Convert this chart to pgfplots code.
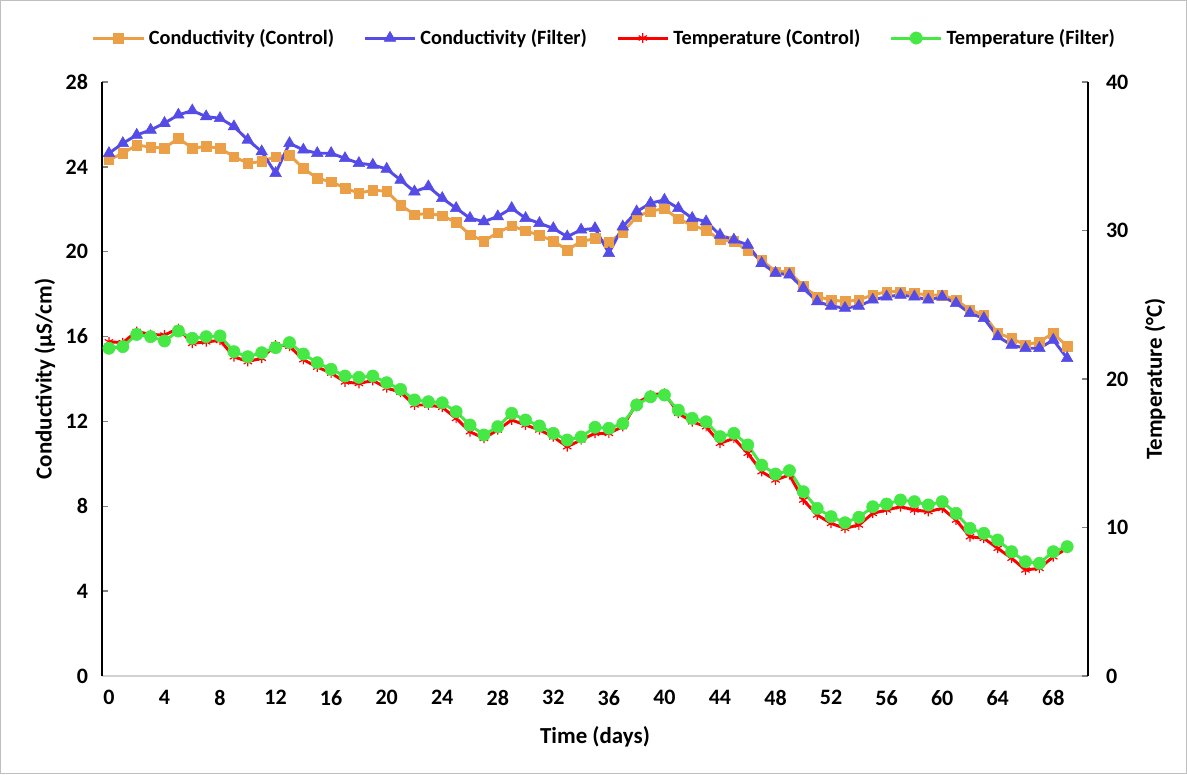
\documentclass[border=0pt]{standalone}
\usepackage{pgfplots}
\usepackage{pgfplotstable}
\pgfplotsset{compat=1.18}
\usepackage{fontspec}
\setmainfont{Carlito}
\definecolor{cOr}{RGB}{235,160,72}
\definecolor{cBl}{RGB}{85,75,230}
\definecolor{cRd}{RGB}{255,0,0}
\definecolor{cGr}{RGB}{70,232,70}

\pgfplotstableread{
d co cf tc tf
0 24.33 24.64 22.50 22.07
1 24.64 25.11 22.45 22.18
2 25.03 25.50 23.20 23.00
3 24.93 25.74 23.00 22.85
4 24.88 26.06 22.96 22.56
5 25.35 26.45 23.40 23.23
6 24.88 26.65 22.40 22.74
7 24.96 26.37 22.50 22.85
8 24.88 26.29 22.60 22.90
9 24.48 25.90 21.50 21.84
10 24.17 25.27 21.17 21.50
11 24.25 24.72 21.40 21.77
12 24.48 23.70 22.30 22.11
13 24.56 25.11 22.20 22.45
14 23.93 24.80 21.30 21.68
15 23.46 24.64 20.80 21.10
16 23.30 24.64 20.40 20.65
17 23.00 24.40 19.80 20.20
18 22.76 24.17 19.70 20.11
19 22.90 24.09 19.90 20.20
20 22.85 23.90 19.40 19.75
21 22.20 23.38 19.10 19.30
22 21.75 22.83 18.25 18.59
23 21.80 23.07 18.25 18.47
24 21.70 22.52 18.10 18.40
25 21.38 22.05 17.35 17.80
26 20.80 21.58 16.45 16.90
27 20.50 21.42 16.00 16.23
28 20.90 21.66 16.57 16.79
29 21.22 22.05 17.24 17.69
30 20.98 21.58 16.90 17.24
31 20.78 21.34 16.57 16.84
32 20.50 21.10 16.10 16.34
33 20.08 20.71 15.44 15.89
34 20.48 21.03 15.90 16.10
35 20.62 21.10 16.34 16.75
36 20.45 19.93 16.34 16.68
37 20.92 21.18 16.80 17.00
38 21.65 21.89 18.36 18.25
39 21.92 22.29 18.92 18.80
40 22.02 22.44 19.04 18.92
41 21.55 22.05 17.69 17.90
42 21.24 21.58 17.12 17.35
43 21.02 21.42 16.79 17.12
44 20.56 20.79 15.67 16.12
45 20.48 20.56 16.00 16.34
46 20.05 20.32 15.00 15.56
47 19.61 19.46 13.76 14.20
48 19.06 18.99 13.20 13.60
49 19.06 18.91 13.54 13.83
50 18.36 18.28 11.85 12.41
51 17.88 17.65 10.84 11.29
52 17.73 17.44 10.28 10.73
53 17.65 17.34 9.94 10.32
54 17.73 17.44 10.17 10.69
55 17.96 17.73 10.95 11.40
56 18.12 17.88 11.18 11.58
57 18.12 17.96 11.40 11.85
58 18.04 17.88 11.18 11.74
59 17.96 17.73 11.07 11.52
60 17.96 17.88 11.29 11.74
61 17.73 17.57 10.50 10.95
62 17.26 17.10 9.38 9.94
63 17.02 16.86 9.27 9.61
64 16.16 16.00 8.60 9.16
65 15.92 15.60 7.93 8.37
66 15.60 15.45 7.14 7.70
67 15.76 15.45 7.25 7.59
68 16.16 15.84 8.03 8.37
69 15.53 14.98 8.60 8.71
}\datatable

\newcommand{\tfont}{\fontsize{16.5}{19}\selectfont\bfseries}
\newcommand{\lfont}{\fontsize{17.2}{20}\selectfont\bfseries}
\newcommand{\gfont}{\fontsize{15.2}{18}\selectfont\bfseries}

\pgfplotsset{
  commonax/.style={
    scale only axis, width=739.5pt, height=445.5pt,
    xmin=-0.5, xmax=70.5,
    tick label style={font=\tfont},
    /pgf/number format/assume math mode=true,
    label style={font=\lfont},
    major tick length=4.5pt,
    clip=false,
  },
  sOr/.style={color=cOr, line width=2.2pt, mark=square*, mark size=3.6pt, mark options={solid, line width=0.4pt}},
  sBl/.style={color=cBl, line width=2.2pt, mark=triangle*, mark size=5pt, mark options={solid, line width=0.4pt}},
  sRd/.style={color=cRd, line width=2.2pt, mark=asterisk, mark size=3.6pt, mark options={solid, line width=0.9pt}},
  sGr/.style={color=cGr, line width=2.2pt, mark=*, mark size=4.6pt, mark options={solid, line width=0.4pt}},
}

\begin{document}
\begin{tikzpicture}
\begin{axis}[commonax,
  ymin=0, ymax=28, ytick={0,4,...,28},
  xtick={0,4,...,68},
  axis x line*=bottom, axis y line*=left,
  x axis line style={draw=black!18, line width=1.2pt},
  y axis line style={line width=1.1pt},
  major x tick style={draw=none},
  major y tick style={line width=1.1pt},
  xticklabel style={yshift=-7pt},
  yticklabel style={xshift=-7pt},
  ylabel={Conductivity (μS/cm)},
  xlabel={Time (days)},
  ylabel style={at={(axis description cs:-0.058,0.5)}, anchor=center, rotate=0},
  xlabel style={at={(axis description cs:0.5,-0.103)}, anchor=center},
]
\coordinate (BL) at (rel axis cs:0,0);
\addplot[sOr] table[x=d, y=co] {\datatable};
\addplot[sBl] table[x=d, y=cf] {\datatable};
\end{axis}

\begin{axis}[commonax,
  ymin=0, ymax=40, ytick={0,10,...,40},
  axis y line*=right, axis x line=none,
  y axis line style={line width=1.1pt},
  major y tick style={line width=1.1pt},
  yticklabel style={xshift=10pt},
  ylabel={Temperature (°C)},
  ylabel style={at={(axis description cs:1.068,0.5)}, anchor=center},
  legend columns=4,
  legend cell align=left,
  legend image code/.code={\draw[mark repeat=2, mark phase=2, #1] plot coordinates {(0cm,0cm) (0.66cm,0cm) (1.32cm,0cm)};},
  legend style={at={(axis description cs:0.51,1.074)}, anchor=center, draw=none, fill=none, font=\gfont,
    /tikz/every even column/.append style={column sep=20pt},
    /tikz/every odd column/.append style={column sep=1pt}},
]
\addlegendimage{sOr}
\addlegendentry{Conductivity (Control)}
\addlegendimage{sBl}
\addlegendentry{Conductivity (Filter)}
\addplot[sRd] table[x=d, y=tc] {\datatable};
\addlegendentry{Temperature (Control)}
\addplot[sGr] table[x=d, y=tf] {\datatable};
\addlegendentry{Temperature (Filter)}
\end{axis}

\pgfresetboundingbox
\path[use as bounding box] ([shift={(-76.5pt,-73.5pt)}]BL) rectangle ([shift={(813.75pt,507pt)}]BL);
\draw[black!25, line width=0.75pt] ([shift={(-76pt,-73pt)}]BL) rectangle ([shift={(813.25pt,506.5pt)}]BL);
\end{tikzpicture}
\end{document}
